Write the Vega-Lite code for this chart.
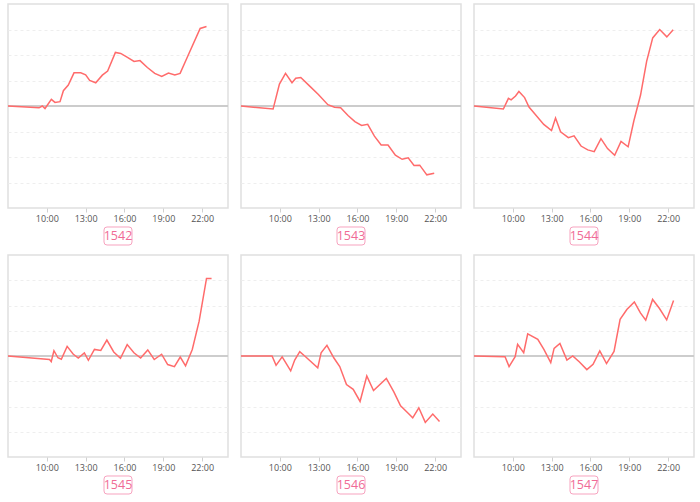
{
  "$schema": "https://vega.github.io/schema/vega-lite/v6.json",
  "padding": {"left": 4, "top": 3, "right": 0, "bottom": 0},
  "background": "white",
  "config": {
    "view": {"stroke": "#e0e0e0", "strokeWidth": 1.5},
    "font": "Open Sans",
    "axisX": {"grid": false, "domain": false, "tickColor": "#d0d0d0", "tickSize": 4, "labelColor": "#555", "labelFontSize": 9, "labelPadding": 2, "title": null, "labelFont": "Open Sans"},
    "axisY": {"grid": true, "gridColor": "#eeeeee", "gridDash": [3, 3], "labels": false, "ticks": false, "domain": false, "title": null}
  },
  "datasets": {
    "p1542": [
      {"h": 7, "v": 0}, {"h": 9.4, "v": -0.07}, {"h": 9.65, "v": 0}, {"h": 9.86, "v": -0.1}, {"h": 10.35, "v": 0.26}, {"h": 10.63, "v": 0.14}, {"h": 11.02, "v": 0.17}, {"h": 11.28, "v": 0.6}, {"h": 11.66, "v": 0.82}, {"h": 12.1, "v": 1.3}, {"h": 12.62, "v": 1.3}, {"h": 13.0, "v": 1.22}, {"h": 13.31, "v": 1.0}, {"h": 13.78, "v": 0.91}, {"h": 14.29, "v": 1.21}, {"h": 14.7, "v": 1.37}, {"h": 15.3, "v": 2.1}, {"h": 15.71, "v": 2.06}, {"h": 16.23, "v": 1.91}, {"h": 16.74, "v": 1.75}, {"h": 17.2, "v": 1.78}, {"h": 17.77, "v": 1.51}, {"h": 18.34, "v": 1.28}, {"h": 18.88, "v": 1.16}, {"h": 19.4, "v": 1.29}, {"h": 19.89, "v": 1.22}, {"h": 20.3, "v": 1.28}, {"h": 20.87, "v": 1.93}, {"h": 21.85, "v": 3.04}, {"h": 22.34, "v": 3.12}
    ],
    "p1543": [
      {"h": 7, "v": 0}, {"h": 9.48, "v": -0.12}, {"h": 9.97, "v": 0.86}, {"h": 10.44, "v": 1.28}, {"h": 10.94, "v": 0.91}, {"h": 11.23, "v": 1.09}, {"h": 11.62, "v": 1.12}, {"h": 12.27, "v": 0.8}, {"h": 12.98, "v": 0.45}, {"h": 13.71, "v": 0.05}, {"h": 14.23, "v": -0.05}, {"h": 14.7, "v": -0.07}, {"h": 15.27, "v": -0.37}, {"h": 15.8, "v": -0.61}, {"h": 16.32, "v": -0.76}, {"h": 16.79, "v": -0.72}, {"h": 17.31, "v": -1.18}, {"h": 17.83, "v": -1.53}, {"h": 18.36, "v": -1.53}, {"h": 18.93, "v": -1.93}, {"h": 19.45, "v": -2.09}, {"h": 19.92, "v": -2.03}, {"h": 20.37, "v": -2.33}, {"h": 20.81, "v": -2.32}, {"h": 21.36, "v": -2.7}, {"h": 21.93, "v": -2.64}
    ],
    "p1544": [
      {"h": 7, "v": 0}, {"h": 9.27, "v": -0.12}, {"h": 9.66, "v": 0.3}, {"h": 9.87, "v": 0.24}, {"h": 10.21, "v": 0.39}, {"h": 10.47, "v": 0.57}, {"h": 10.91, "v": 0.33}, {"h": 11.25, "v": -0.04}, {"h": 11.69, "v": -0.3}, {"h": 12.39, "v": -0.72}, {"h": 12.99, "v": -0.96}, {"h": 13.3, "v": -0.47}, {"h": 13.69, "v": -1.01}, {"h": 14.29, "v": -1.24}, {"h": 14.73, "v": -1.17}, {"h": 15.27, "v": -1.57}, {"h": 15.79, "v": -1.72}, {"h": 16.29, "v": -1.79}, {"h": 16.81, "v": -1.28}, {"h": 17.32, "v": -1.67}, {"h": 17.87, "v": -1.93}, {"h": 18.36, "v": -1.39}, {"h": 18.91, "v": -1.6}, {"h": 19.35, "v": -0.59}, {"h": 19.87, "v": 0.43}, {"h": 20.34, "v": 1.75}, {"h": 20.81, "v": 2.67}, {"h": 21.35, "v": 3.0}, {"h": 21.9, "v": 2.71}, {"h": 22.39, "v": 2.99}
    ],
    "p1545": [
      {"h": 7, "v": 0}, {"h": 10.21, "v": -0.14}, {"h": 10.34, "v": -0.22}, {"h": 10.55, "v": 0.21}, {"h": 10.86, "v": -0.07}, {"h": 11.12, "v": -0.13}, {"h": 11.57, "v": 0.38}, {"h": 12.03, "v": 0.08}, {"h": 12.43, "v": -0.08}, {"h": 12.9, "v": 0.12}, {"h": 13.21, "v": -0.17}, {"h": 13.68, "v": 0.26}, {"h": 14.17, "v": 0.22}, {"h": 14.64, "v": 0.63}, {"h": 15.17, "v": 0.16}, {"h": 15.69, "v": -0.09}, {"h": 16.21, "v": 0.45}, {"h": 16.73, "v": 0.13}, {"h": 17.25, "v": -0.08}, {"h": 17.8, "v": 0.24}, {"h": 18.3, "v": -0.14}, {"h": 18.87, "v": 0.07}, {"h": 19.34, "v": -0.34}, {"h": 19.86, "v": -0.42}, {"h": 20.31, "v": -0.04}, {"h": 20.72, "v": -0.39}, {"h": 21.24, "v": 0.26}, {"h": 21.77, "v": 1.38}, {"h": 22.34, "v": 3.07}, {"h": 22.73, "v": 3.07}
    ],
    "p1546": [
      {"h": 7, "v": 0}, {"h": 9.4, "v": 0}, {"h": 9.71, "v": -0.37}, {"h": 10.18, "v": -0.03}, {"h": 10.84, "v": -0.59}, {"h": 11.15, "v": -0.16}, {"h": 11.54, "v": 0.17}, {"h": 12.01, "v": -0.04}, {"h": 12.93, "v": -0.47}, {"h": 13.19, "v": 0.13}, {"h": 13.64, "v": 0.42}, {"h": 14.18, "v": -0.08}, {"h": 14.63, "v": -0.42}, {"h": 15.15, "v": -1.13}, {"h": 15.67, "v": -1.32}, {"h": 16.2, "v": -1.8}, {"h": 16.72, "v": -0.79}, {"h": 17.24, "v": -1.37}, {"h": 18.23, "v": -0.89}, {"h": 18.81, "v": -1.42}, {"h": 19.33, "v": -1.97}, {"h": 19.86, "v": -2.24}, {"h": 20.27, "v": -2.45}, {"h": 20.74, "v": -2.05}, {"h": 21.24, "v": -2.63}, {"h": 21.82, "v": -2.3}, {"h": 22.34, "v": -2.59}
    ],
    "p1547": [
      {"h": 7, "v": 0}, {"h": 9.4, "v": -0.03}, {"h": 9.71, "v": -0.42}, {"h": 10.18, "v": -0.03}, {"h": 10.37, "v": 0.46}, {"h": 10.84, "v": 0.13}, {"h": 11.15, "v": 0.88}, {"h": 11.93, "v": 0.66}, {"h": 12.4, "v": 0.26}, {"h": 12.93, "v": -0.26}, {"h": 13.19, "v": 0.3}, {"h": 13.64, "v": 0.5}, {"h": 14.18, "v": -0.16}, {"h": 14.63, "v": 0}, {"h": 15.15, "v": -0.24}, {"h": 15.72, "v": -0.54}, {"h": 16.2, "v": -0.33}, {"h": 16.72, "v": 0.2}, {"h": 17.24, "v": -0.3}, {"h": 17.82, "v": 0.18}, {"h": 18.29, "v": 1.45}, {"h": 18.81, "v": 1.84}, {"h": 19.39, "v": 2.14}, {"h": 19.86, "v": 1.71}, {"h": 20.27, "v": 1.42}, {"h": 20.8, "v": 2.24}, {"h": 21.32, "v": 1.89}, {"h": 21.89, "v": 1.43}, {"h": 22.42, "v": 2.2}
    ]
  },
  "spacing": 6,
  "vconcat": [
    {
      "spacing": 7,
      "hconcat": [
        {"spacing": 0, "vconcat": [
          {"width": 220, "height": 204, "data": {"name": "p1542"}, "layer": [
            {"mark": {"type": "rule", "color": "#cccccc", "strokeWidth": 2}, "encoding": {"y": {"datum": 0, "type": "quantitative"}}},
            {"mark": {"type": "line", "color": "#ff6b6b", "strokeWidth": 1.5}, "encoding": {"x": {"field": "h", "type": "quantitative", "scale": {"domain": [7, 24]}, "axis": {"values": [10, 13, 16, 19, 22], "labelExpr": "datum.value + ':00'"}}, "y": {"field": "v", "type": "quantitative", "scale": {"domain": [-4, 4]}, "axis": {"values": [-3, -2, -1, 1, 2, 3]}}}}
          ]},
          {"width": 220, "height": 16, "view": {"stroke": null}, "data": {"values": [{"id": "1542"}]}, "layer": [
            {"mark": {"type": "point", "shape": "M-0.786,-0.643 L0.786,-0.643 Q1,-0.643 1,-0.429 L1,0.429 Q1,0.643 0.786,0.643 L-0.786,0.643 Q-1,0.643 -1,0.429 L-1,-0.429 Q-1,-0.643 -0.786,-0.643 Z", "size": 784, "filled": false, "stroke": "#f7a3bf", "strokeWidth": 1, "opacity": 1}, "encoding": {}},
            {"mark": {"type": "text", "fontSize": 12.5, "color": "#f06b96", "font": "Open Sans"}, "encoding": {"text": {"field": "id"}}}
          ]}
        ]},
        {"spacing": 0, "vconcat": [
          {"width": 220, "height": 204, "data": {"name": "p1543"}, "layer": [
            {"mark": {"type": "rule", "color": "#cccccc", "strokeWidth": 2}, "encoding": {"y": {"datum": 0, "type": "quantitative"}}},
            {"mark": {"type": "line", "color": "#ff6b6b", "strokeWidth": 1.5}, "encoding": {"x": {"field": "h", "type": "quantitative", "scale": {"domain": [7, 24]}, "axis": {"values": [10, 13, 16, 19, 22], "labelExpr": "datum.value + ':00'"}}, "y": {"field": "v", "type": "quantitative", "scale": {"domain": [-4, 4]}, "axis": {"values": [-3, -2, -1, 1, 2, 3]}}}}
          ]},
          {"width": 220, "height": 16, "view": {"stroke": null}, "data": {"values": [{"id": "1543"}]}, "layer": [
            {"mark": {"type": "point", "shape": "M-0.786,-0.643 L0.786,-0.643 Q1,-0.643 1,-0.429 L1,0.429 Q1,0.643 0.786,0.643 L-0.786,0.643 Q-1,0.643 -1,0.429 L-1,-0.429 Q-1,-0.643 -0.786,-0.643 Z", "size": 784, "filled": false, "stroke": "#f7a3bf", "strokeWidth": 1, "opacity": 1}, "encoding": {}},
            {"mark": {"type": "text", "fontSize": 12.5, "color": "#f06b96", "font": "Open Sans"}, "encoding": {"text": {"field": "id"}}}
          ]}
        ]},
        {"spacing": 0, "vconcat": [
          {"width": 220, "height": 204, "data": {"name": "p1544"}, "layer": [
            {"mark": {"type": "rule", "color": "#cccccc", "strokeWidth": 2}, "encoding": {"y": {"datum": 0, "type": "quantitative"}}},
            {"mark": {"type": "line", "color": "#ff6b6b", "strokeWidth": 1.5}, "encoding": {"x": {"field": "h", "type": "quantitative", "scale": {"domain": [7, 24]}, "axis": {"values": [10, 13, 16, 19, 22], "labelExpr": "datum.value + ':00'"}}, "y": {"field": "v", "type": "quantitative", "scale": {"domain": [-4, 4]}, "axis": {"values": [-3, -2, -1, 1, 2, 3]}}}}
          ]},
          {"width": 220, "height": 16, "view": {"stroke": null}, "data": {"values": [{"id": "1544"}]}, "layer": [
            {"mark": {"type": "point", "shape": "M-0.786,-0.643 L0.786,-0.643 Q1,-0.643 1,-0.429 L1,0.429 Q1,0.643 0.786,0.643 L-0.786,0.643 Q-1,0.643 -1,0.429 L-1,-0.429 Q-1,-0.643 -0.786,-0.643 Z", "size": 784, "filled": false, "stroke": "#f7a3bf", "strokeWidth": 1, "opacity": 1}, "encoding": {}},
            {"mark": {"type": "text", "fontSize": 12.5, "color": "#f06b96", "font": "Open Sans"}, "encoding": {"text": {"field": "id"}}}
          ]}
        ]}
      ]
    },
    {
      "spacing": 7,
      "hconcat": [
        {"spacing": 0, "vconcat": [
          {"width": 220, "height": 202, "data": {"name": "p1545"}, "layer": [
            {"mark": {"type": "rule", "color": "#cccccc", "strokeWidth": 1.5}, "encoding": {"y": {"datum": 0, "type": "quantitative"}}},
            {"mark": {"type": "line", "color": "#ff6b6b", "strokeWidth": 1.5}, "encoding": {"x": {"field": "h", "type": "quantitative", "scale": {"domain": [7, 24]}, "axis": {"values": [10, 13, 16, 19, 22], "labelExpr": "datum.value + ':00'"}}, "y": {"field": "v", "type": "quantitative", "scale": {"domain": [-4, 4]}, "axis": {"values": [-3, -2, -1, 1, 2, 3]}}}}
          ]},
          {"width": 220, "height": 16, "view": {"stroke": null}, "data": {"values": [{"id": "1545"}]}, "layer": [
            {"mark": {"type": "point", "shape": "M-0.786,-0.643 L0.786,-0.643 Q1,-0.643 1,-0.429 L1,0.429 Q1,0.643 0.786,0.643 L-0.786,0.643 Q-1,0.643 -1,0.429 L-1,-0.429 Q-1,-0.643 -0.786,-0.643 Z", "size": 784, "filled": false, "stroke": "#f7a3bf", "strokeWidth": 1, "opacity": 1}, "encoding": {}},
            {"mark": {"type": "text", "fontSize": 12.5, "color": "#f06b96", "font": "Open Sans"}, "encoding": {"text": {"field": "id"}}}
          ]}
        ]},
        {"spacing": 0, "vconcat": [
          {"width": 220, "height": 202, "data": {"name": "p1546"}, "layer": [
            {"mark": {"type": "rule", "color": "#cccccc", "strokeWidth": 1.5}, "encoding": {"y": {"datum": 0, "type": "quantitative"}}},
            {"mark": {"type": "line", "color": "#ff6b6b", "strokeWidth": 1.5}, "encoding": {"x": {"field": "h", "type": "quantitative", "scale": {"domain": [7, 24]}, "axis": {"values": [10, 13, 16, 19, 22], "labelExpr": "datum.value + ':00'"}}, "y": {"field": "v", "type": "quantitative", "scale": {"domain": [-4, 4]}, "axis": {"values": [-3, -2, -1, 1, 2, 3]}}}}
          ]},
          {"width": 220, "height": 16, "view": {"stroke": null}, "data": {"values": [{"id": "1546"}]}, "layer": [
            {"mark": {"type": "point", "shape": "M-0.786,-0.643 L0.786,-0.643 Q1,-0.643 1,-0.429 L1,0.429 Q1,0.643 0.786,0.643 L-0.786,0.643 Q-1,0.643 -1,0.429 L-1,-0.429 Q-1,-0.643 -0.786,-0.643 Z", "size": 784, "filled": false, "stroke": "#f7a3bf", "strokeWidth": 1, "opacity": 1}, "encoding": {}},
            {"mark": {"type": "text", "fontSize": 12.5, "color": "#f06b96", "font": "Open Sans"}, "encoding": {"text": {"field": "id"}}}
          ]}
        ]},
        {"spacing": 0, "vconcat": [
          {"width": 220, "height": 202, "data": {"name": "p1547"}, "layer": [
            {"mark": {"type": "rule", "color": "#cccccc", "strokeWidth": 1.5}, "encoding": {"y": {"datum": 0, "type": "quantitative"}}},
            {"mark": {"type": "line", "color": "#ff6b6b", "strokeWidth": 1.5}, "encoding": {"x": {"field": "h", "type": "quantitative", "scale": {"domain": [7, 24]}, "axis": {"values": [10, 13, 16, 19, 22], "labelExpr": "datum.value + ':00'"}}, "y": {"field": "v", "type": "quantitative", "scale": {"domain": [-4, 4]}, "axis": {"values": [-3, -2, -1, 1, 2, 3]}}}}
          ]},
          {"width": 220, "height": 16, "view": {"stroke": null}, "data": {"values": [{"id": "1547"}]}, "layer": [
            {"mark": {"type": "point", "shape": "M-0.786,-0.643 L0.786,-0.643 Q1,-0.643 1,-0.429 L1,0.429 Q1,0.643 0.786,0.643 L-0.786,0.643 Q-1,0.643 -1,0.429 L-1,-0.429 Q-1,-0.643 -0.786,-0.643 Z", "size": 784, "filled": false, "stroke": "#f7a3bf", "strokeWidth": 1, "opacity": 1}, "encoding": {}},
            {"mark": {"type": "text", "fontSize": 12.5, "color": "#f06b96", "font": "Open Sans"}, "encoding": {"text": {"field": "id"}}}
          ]}
        ]}
      ]
    }
  ]
}
